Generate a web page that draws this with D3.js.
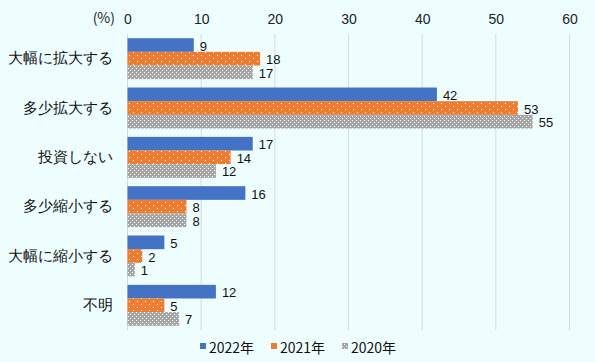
<!DOCTYPE html>
<html>
<head>
<meta charset="utf-8">
<script src="https://cdn.jsdelivr.net/npm/d3@7"></script>
<style>
  body { margin: 0; background: #eefefe; }
  svg { display: block; font-family: "Noto Sans CJK JP", sans-serif; }
</style>
</head>
<body>
<svg width="595" height="362"></svg>
<script>
// categories and series
var categories = ['大幅に拡大する', '多少拡大する', '投資しない', '多少縮小する', '大幅に縮小する', '不明'];
var seriesNames = ['2022年', '2021年', '2020年'];
var values2022 = [9, 42, 17, 16, 5, 12];
var values2021 = [18, 53, 14, 8, 2, 5];
var values2020 = [17, 55, 12, 8, 1, 7];
var xTicks = [0, 10, 20, 30, 40, 50, 60];

var series = [values2022, values2021, values2020];
var fills = ['#4472c4', 'url(#dotOrange)', 'url(#dotGray)'];
var swatch = ['#4472c4', '#ed7d31', 'url(#dotGray)'];

var svg = d3.select('svg');
svg.append('rect').attr('width', 595).attr('height', 362).attr('fill', '#eefefe');

// patterns for the 2021 / 2020 bars
var defs = svg.append('defs');
var po = defs.append('pattern').attr('id', 'dotOrange')
  .attr('patternUnits', 'userSpaceOnUse').attr('width', 8).attr('height', 6);
po.append('rect').attr('width', 8).attr('height', 6).attr('fill', '#ed7d31');
po.append('rect').attr('x', 1).attr('y', 1).attr('width', 1).attr('height', 1).attr('fill', '#fff');
po.append('rect').attr('x', 5).attr('y', 4).attr('width', 1).attr('height', 1).attr('fill', '#fff');

var pg = defs.append('pattern').attr('id', 'dotGray')
  .attr('patternUnits', 'userSpaceOnUse').attr('width', 4).attr('height', 4);
pg.append('rect').attr('width', 4).attr('height', 4).attr('fill', '#a5a5a5');
pg.append('rect').attr('x', 0).attr('y', 0).attr('width', 1).attr('height', 1).attr('fill', '#fff');
pg.append('rect').attr('x', 2).attr('y', 2).attr('width', 1).attr('height', 1).attr('fill', '#fff');

var x = d3.scaleLinear().domain([0, 60]).range([127.5, 569.5]);
var y = d3.scaleBand().domain(categories).range([34, 330]).paddingInner(0.17).paddingOuter(0.085);
var ySub = d3.scaleBand().domain(d3.range(series.length)).range([0, y.bandwidth()]);

// gridlines
svg.append('g').selectAll('line').data(xTicks).enter().append('line')
  .attr('x1', function(d){ return x(d); }).attr('x2', function(d){ return x(d); })
  .attr('y1', 34).attr('y2', 330)
  .attr('stroke', '#d9d9d9').attr('stroke-width', 1);

// top axis labels
var xAxis = svg.append('g').attr('transform', 'translate(0,24)')
  .call(d3.axisTop(x).tickValues(xTicks).tickSize(0).tickPadding(0));
xAxis.select('.domain').remove();
xAxis.selectAll('text').attr('font-size', 14).attr('fill', '#222')
  .attr('font-family', '"Liberation Sans", Arial, sans-serif');
svg.append('text').attr('x', 115).attr('y', 23).attr('text-anchor', 'end')
  .attr('font-size', 14).attr('fill', '#222').text('(%)');

// bars
series.forEach(function(vals, s){
  var g = svg.append('g');
  g.selectAll('rect').data(vals).enter().append('rect')
    .attr('x', x(0))
    .attr('y', function(d, i){ return y(categories[i]) + ySub(s); })
    .attr('width', function(d){ return x(d) - x(0); })
    .attr('height', ySub.bandwidth())
    .attr('fill', fills[s]);
  g.selectAll('text').data(vals).enter().append('text')
    .attr('x', function(d){ return x(d) + 6; })
    .attr('y', function(d, i){ return y(categories[i]) + ySub(s) + ySub.bandwidth() / 2 + 5.5; })
    .attr('font-size', 13).attr('fill', '#111')
    .attr('font-family', '"Liberation Sans", Arial, sans-serif')
    .text(function(d){ return d; });
});

// category labels
var yAxis = svg.append('g').attr('transform', 'translate(113,0)')
  .call(d3.axisLeft(y).tickSize(0).tickPadding(0));
yAxis.select('.domain').remove();
yAxis.selectAll('text').attr('font-size', 15).attr('fill', '#111');

// legend
var legendX = [200, 271, 342];
var lg = svg.append('g').selectAll('g').data(seriesNames).enter().append('g')
  .attr('transform', function(d, i){ return 'translate(' + legendX[i] + ',342)'; });
lg.append('rect').attr('width', 6).attr('height', 6).attr('y', 1)
  .attr('fill', function(d, i){ return swatch[i]; });
lg.append('text').attr('x', 9).attr('y', 11).attr('font-size', 14).attr('fill', '#111')
  .text(function(d){ return d; });
</script>
</body>
</html>
